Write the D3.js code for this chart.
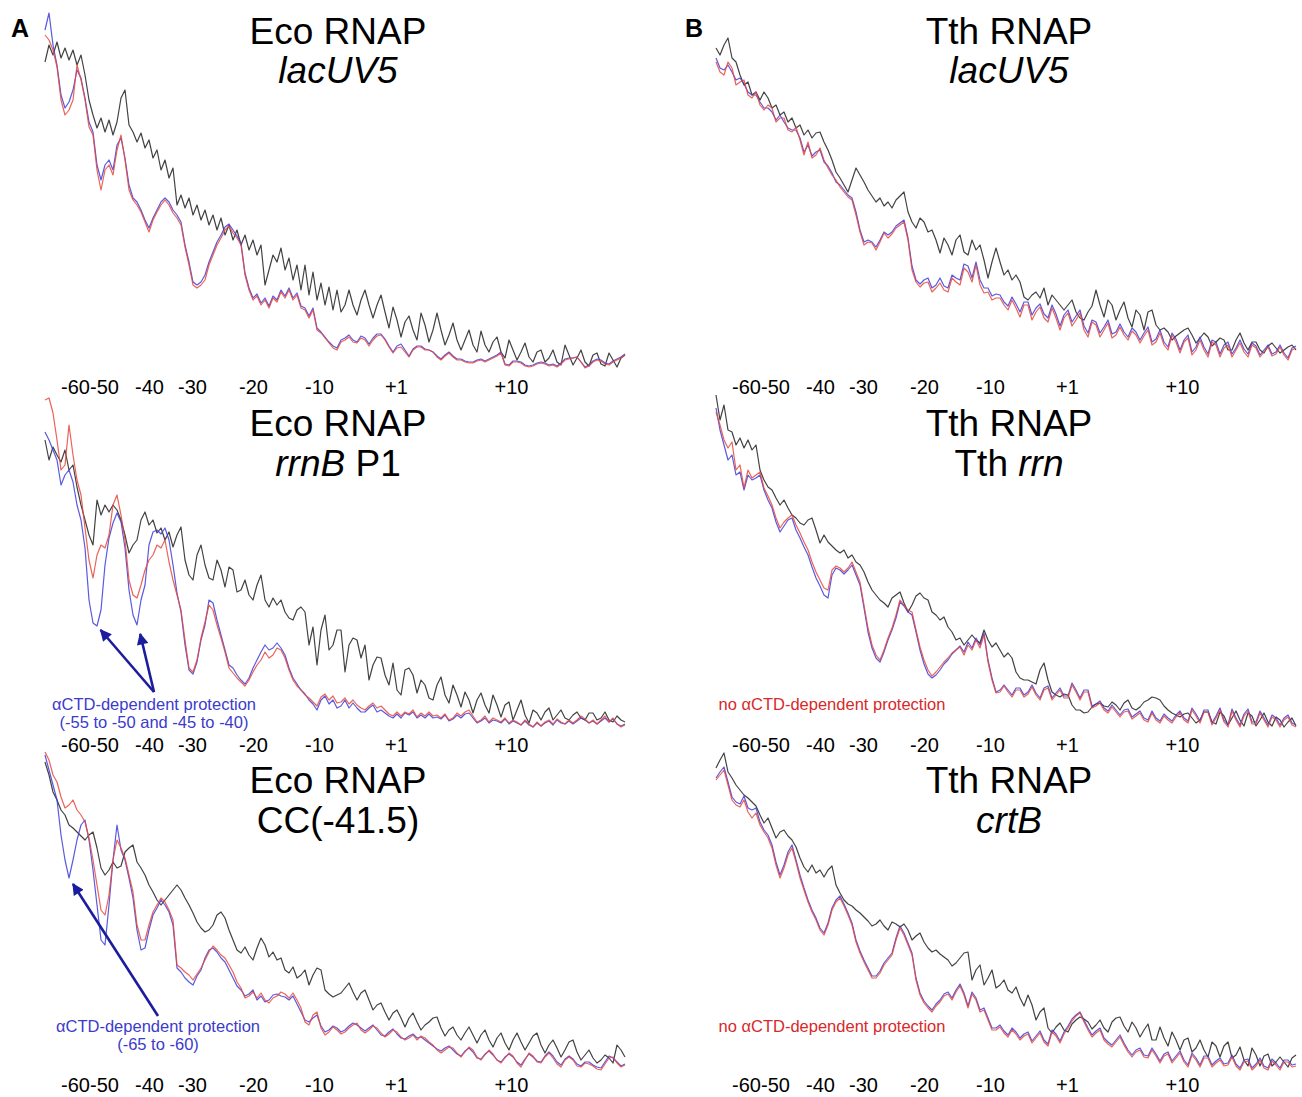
<!DOCTYPE html>
<html>
<head>
<meta charset="utf-8">
<script src="https://cdn.jsdelivr.net/npm/d3@7"></script>
<style>
  body { margin: 0; background: #fff; }
  svg { display: block; }
  text { font-family: "Liberation Sans", Arial, sans-serif; }
</style>
</head>
<body>
<svg></svg>
<script>
const width = 1302;
const height = 1097;

// trace intensities (height above baseline), one sample per scan step
const ecoLacBlack = [308,325,315,328,312,322,310,320,305,315,295,270,255,242,252,238,250,235,248,272,280,245,238,228,237,222,230,212,220,200,210,192,202,165,175,162,172,155,165,150,160,145,155,140,152,135,145,130,140,125,135,120,130,115,125,85,100,115,108,122,100,112,90,105,80,105,75,98,70,87,65,83,60,80,58,65,80,65,55,70,80,65,52,65,75,58,42,63,50,33,48,54,40,30,57,45,28,40,57,40,25,35,47,30,20,30,40,25,18,39,25,18,28,33,18,12,30,20,10,18,27,13,8,18,20,8,12,20,8,5,25,15,5,12,20,8,4,15,17,6,4,17,10,3,12,15];
const ecoLacRed = [335,330,320,303,270,255,260,270,305,290,270,243,235,200,180,200,205,195,220,235,210,180,170,165,158,148,138,150,158,165,170,165,157,152,145,123,105,85,82,85,90,105,115,125,132,140,144,137,132,125,95,80,70,74,65,70,62,72,68,78,72,80,70,75,62,60,52,60,40,37,32,27,22,20,28,30,33,28,27,32,30,24,30,34,35,30,23,17,22,23,18,13,20,23,23,20,20,18,13,10,14,17,13,10,10,8,7,7,9,10,8,10,12,14,17,5,4,8,8,7,4,3,4,6,7,6,4,5,3,6,10,11,12,13,8,2,4,8,10,9,6,5,8,10,12,15];
const ecoLacBlue = [340,357,325,305,275,262,268,280,300,292,272,248,238,205,190,205,210,200,225,232,212,185,172,168,160,150,142,152,160,168,172,168,160,155,148,125,108,88,85,88,95,108,118,128,135,143,146,140,134,127,97,82,72,76,67,72,64,74,70,80,74,82,72,77,64,62,54,62,42,38,33,28,24,22,30,32,35,30,28,34,32,26,32,36,36,31,24,18,24,26,20,14,21,24,24,21,20,18,14,11,15,18,14,11,11,9,8,8,10,11,9,11,13,15,18,6,5,9,9,8,5,4,5,7,8,7,5,6,4,7,11,12,12,13,8,3,5,9,11,10,7,6,9,11,13,16];

const ecoRrnBlack = [290,270,283,275,268,280,260,265,243,225,210,195,185,230,215,225,218,225,220,210,195,177,185,190,210,218,205,210,197,202,190,198,183,195,203,170,155,150,175,185,165,152,150,170,160,143,163,160,138,140,150,135,130,145,155,130,123,132,125,130,118,112,110,120,123,118,85,103,65,100,115,80,85,100,100,58,85,92,90,72,85,50,65,73,72,55,45,67,40,35,60,62,55,37,50,45,32,30,45,53,35,27,45,35,23,38,30,17,30,37,25,17,35,25,13,25,28,10,20,30,15,7,20,17,10,18,22,10,15,20,12,10,15,18,12,10,17,17,10,12,18,10,8,14,10,8];
const ecoRrnRed = [330,332,317,290,260,265,305,275,250,235,202,170,152,175,185,182,195,225,235,215,190,150,135,132,145,160,170,175,185,182,190,168,150,135,120,90,62,58,70,92,108,125,120,105,92,78,62,57,52,48,44,50,58,65,70,78,72,75,82,80,72,60,50,44,40,35,32,28,24,33,36,30,34,27,28,32,26,30,25,22,20,24,27,22,24,20,16,14,18,14,18,16,20,13,17,14,18,14,15,12,16,10,12,17,14,18,20,14,8,10,14,8,12,10,8,12,7,10,8,5,10,6,3,8,4,8,10,6,11,8,6,10,7,10,14,11,7,10,6,10,14,8,12,6,3,5];
const ecoRrnBlue = [298,290,280,270,245,255,260,248,225,210,182,130,107,104,120,165,192,207,217,208,182,140,115,105,130,145,185,198,200,196,202,190,165,137,118,85,60,56,68,90,105,130,127,110,95,80,65,62,55,50,46,52,62,70,78,85,80,82,87,82,75,62,52,46,40,36,30,26,20,30,34,26,30,22,24,30,22,27,22,18,18,22,25,18,20,17,14,12,16,12,17,15,18,12,15,12,16,12,13,11,15,9,11,15,12,16,17,12,7,9,12,7,10,9,7,11,6,9,7,5,9,5,3,7,4,7,9,5,10,7,6,9,6,9,12,10,7,9,6,9,12,8,11,6,4,6];

const ecoCcBlack = [308,295,278,270,260,255,245,242,238,234,230,235,238,222,202,195,200,208,202,204,218,222,225,208,202,195,185,178,170,165,170,175,180,185,180,172,165,157,148,142,138,140,145,155,158,152,140,130,120,117,123,115,110,122,132,125,113,118,110,112,100,97,103,92,95,100,85,95,102,100,80,76,73,75,77,82,87,78,70,77,80,70,60,65,67,58,50,57,60,52,43,52,57,48,40,45,48,52,53,42,34,40,43,35,30,37,43,35,27,35,40,30,23,32,37,27,20,30,37,28,20,27,34,37,25,17,25,30,22,13,20,28,30,18,10,15,20,12,7,10,15,12,7,25,20,13];
const ecoCcRed = [318,310,295,288,273,262,265,270,260,255,248,232,210,185,160,155,175,210,230,222,212,195,178,145,130,130,145,158,165,172,168,160,150,105,102,98,95,90,96,102,110,118,124,120,115,112,105,98,88,82,72,74,78,72,77,70,67,72,74,78,76,72,77,70,62,48,45,55,58,42,35,38,43,40,36,38,42,45,47,40,37,40,44,42,37,33,36,40,38,33,30,32,35,30,34,32,28,25,20,17,20,23,22,17,13,18,23,20,13,10,15,20,16,10,7,12,17,14,7,3,10,17,14,8,7,13,17,12,6,3,10,13,10,4,3,7,6,4,1,0,6,12,13,7,3,5];
const ecoCcBlue = [315,300,285,270,235,210,192,210,230,245,250,230,200,165,130,125,165,210,245,220,210,192,172,140,120,122,140,155,162,170,165,158,145,102,98,92,88,85,94,100,112,120,122,118,112,108,100,92,84,80,74,76,80,70,74,68,70,75,76,74,73,70,74,66,58,50,48,52,55,44,38,40,44,42,38,40,44,47,45,42,39,42,45,40,35,34,38,41,36,32,31,34,36,32,33,30,27,24,21,19,22,24,20,16,14,19,22,18,12,11,16,19,15,10,8,13,16,13,8,5,11,16,13,9,8,14,18,14,8,5,11,14,11,6,4,8,8,5,3,2,8,14,12,8,4,6];

const tthLacBlack = [322,315,325,332,312,308,295,285,288,275,278,270,278,272,262,265,255,258,248,252,242,245,235,240,232,237,238,228,220,210,198,192,185,178,190,202,195,188,180,174,168,172,164,168,162,170,174,178,158,148,142,152,148,138,140,130,117,132,125,115,130,135,118,115,130,120,125,110,92,108,122,108,95,100,90,95,88,73,70,75,78,72,82,65,75,70,65,60,65,70,58,52,50,58,64,80,65,53,70,65,50,60,68,52,43,60,55,40,58,60,45,40,42,38,30,34,37,40,42,35,27,32,37,33,24,28,32,30,20,20,30,37,27,20,28,28,20,17,24,27,22,17,20,23,25,20];
const tthLacRed = [308,298,295,308,302,285,288,290,275,272,278,265,260,265,262,248,252,252,240,238,243,230,215,228,212,215,222,210,202,195,190,183,178,173,170,155,138,125,128,127,120,128,137,132,136,142,145,148,130,100,88,83,87,88,78,82,87,80,78,92,88,85,102,98,88,105,85,77,78,70,72,72,65,60,70,62,53,65,65,50,58,63,52,48,62,52,40,52,57,44,50,57,40,33,48,45,33,40,47,32,35,43,35,30,39,35,27,34,40,25,28,37,25,20,35,28,17,28,32,15,20,30,20,13,28,25,13,22,25,13,20,27,18,13,25,22,13,18,23,14,16,23,15,10,20,22];
const tthLacBlue = [312,302,300,305,298,290,292,286,278,275,275,268,262,262,258,250,255,248,242,240,240,232,218,225,214,218,220,208,204,197,188,185,180,175,172,158,140,128,130,128,123,130,138,135,138,144,147,150,132,104,90,86,90,92,82,85,92,84,82,95,92,90,106,104,92,108,90,82,82,74,76,75,68,64,73,66,58,68,68,55,62,66,56,52,65,56,44,55,60,48,54,60,44,37,50,48,37,43,50,36,38,46,38,33,42,38,30,37,43,28,31,40,28,23,37,31,20,30,35,18,23,33,23,16,30,28,16,25,28,16,22,30,21,16,27,24,15,20,25,16,18,25,17,12,22,24];

const tthRrnBlack = [335,310,325,300,298,285,292,282,290,280,285,260,250,243,240,232,225,230,222,215,212,207,205,210,212,200,187,195,188,184,180,177,180,172,175,168,165,158,148,140,135,130,127,123,132,135,138,127,118,125,134,137,132,130,118,115,110,113,103,98,90,92,85,90,95,90,87,100,90,83,87,80,73,77,72,58,52,50,50,48,46,60,67,50,38,35,33,36,35,25,20,20,17,18,23,26,27,24,23,28,25,20,27,30,22,20,23,28,30,33,32,30,24,20,17,15,13,16,17,12,7,10,18,18,8,6,18,14,5,12,19,10,4,17,14,4,10,17,8,4,13,10,3,8,12,4];
const tthRrnRed = [318,305,290,282,288,260,265,242,260,252,255,258,242,234,225,212,202,208,212,215,205,197,188,180,168,158,150,142,140,160,164,162,158,162,168,158,148,125,102,85,75,70,80,92,102,115,130,125,120,118,100,83,70,60,54,58,63,68,72,77,80,83,75,85,80,90,82,95,68,50,37,38,44,38,33,40,40,33,36,43,35,30,40,42,30,35,40,32,32,45,38,30,38,38,22,24,27,20,17,23,18,13,18,19,11,14,17,10,8,17,10,7,14,10,7,13,17,10,7,20,14,7,18,18,5,12,20,8,3,19,10,3,14,19,6,6,17,10,3,13,10,3,10,13,5,3];
const tthRrnBlue = [322,300,285,270,275,255,258,240,255,250,252,255,240,230,222,208,198,204,210,212,200,192,183,175,163,152,144,135,132,155,162,160,156,160,165,155,145,122,98,82,72,68,78,90,100,112,128,124,118,115,98,80,66,56,52,55,60,66,70,76,80,84,78,88,82,92,85,97,70,52,38,40,45,40,35,42,42,35,38,45,37,32,42,44,32,37,42,34,34,47,40,32,40,40,24,26,29,22,19,25,20,15,20,21,13,16,19,12,10,19,12,9,16,12,9,15,19,12,9,22,16,9,20,20,7,14,22,10,5,21,12,5,16,21,8,8,19,12,5,15,12,5,12,15,7,5];

const tthCrtBlack = [302,310,317,298,292,285,280,275,272,268,264,255,247,252,242,232,238,240,234,230,223,212,203,198,205,197,200,193,200,204,185,177,170,166,164,160,157,153,149,144,146,150,144,140,148,146,143,146,140,130,134,137,128,122,118,120,116,113,110,104,107,112,117,118,90,100,105,85,92,100,82,85,90,80,77,83,72,64,75,65,50,58,62,42,37,43,47,40,38,46,50,53,51,48,41,45,50,42,38,48,52,53,44,38,48,42,33,40,46,30,30,43,32,24,38,30,20,30,32,18,22,30,20,13,28,24,13,24,28,12,15,23,10,4,22,15,4,14,16,4,8,13,8,3,12,15];
const tthCrtRed = [290,295,300,285,270,265,263,270,258,252,257,245,238,232,222,205,192,202,215,222,208,192,180,168,158,150,140,135,145,160,168,172,164,155,145,128,117,108,100,92,92,97,105,110,115,130,142,135,125,115,90,75,67,62,58,64,68,74,76,70,78,84,75,62,76,70,58,60,50,40,40,43,37,33,40,36,30,34,36,27,32,37,28,24,38,34,27,36,42,49,54,57,48,40,33,37,40,30,26,23,28,33,25,18,13,18,20,13,12,20,14,7,14,16,7,12,17,8,3,15,10,3,12,12,3,7,10,4,5,13,4,0,8,9,0,4,10,2,0,9,5,0,8,8,3,4];
const tthCrtBlue = [292,298,303,288,273,268,266,274,262,260,262,248,240,235,225,208,195,205,218,225,210,195,182,170,160,152,142,137,147,162,170,174,166,157,147,130,119,110,102,94,94,99,107,112,117,132,144,137,127,117,92,77,69,64,60,66,70,76,78,72,80,86,77,64,78,72,60,62,52,42,42,45,39,35,42,38,32,36,38,29,34,39,30,26,40,36,29,38,44,51,55,58,50,42,35,39,42,32,28,25,30,35,27,20,15,20,22,15,14,22,16,9,16,18,9,14,19,10,5,17,12,5,14,14,5,9,12,6,7,15,6,2,10,11,2,6,12,4,2,11,7,2,10,10,5,6];

// position scale ticks (scan step units) and their labels
const tickPos = [7.5, 14.75, 26, 36.75, 52, 68.5, 87.75, 116.5];
const tickLabels = ["-60", "-50", "-40", "-30", "-20", "-10", "+1", "+10"];
const scanSteps = 145;

const panels = [
  { col: 0, row: 0, l1: "Eco RNAP", l2: [["lacUV5", true]], traces: [ecoLacBlack, ecoLacBlue, ecoLacRed] },
  { col: 0, row: 1, l1: "Eco RNAP", l2: [["rrnB", true], [" P1", false]], traces: [ecoRrnBlack, ecoRrnBlue, ecoRrnRed] },
  { col: 0, row: 2, l1: "Eco RNAP", l2: [["CC(-41.5)", false]], traces: [ecoCcBlack, ecoCcBlue, ecoCcRed] },
  { col: 1, row: 0, l1: "Tth RNAP", l2: [["lacUV5", true]], traces: [tthLacBlack, tthLacBlue, tthLacRed] },
  { col: 1, row: 1, l1: "Tth RNAP", l2: [["Tth ", false], ["rrn", true]], traces: [tthRrnBlack, tthRrnBlue, tthRrnRed] },
  { col: 1, row: 2, l1: "Tth RNAP", l2: [["crtB", true]], traces: [tthCrtBlack, tthCrtBlue, tthCrtRed] }
];

// annotations in data units: [scan step, height]
const notes = [
  { col: 0, row: 1, color: "#3b3bcc", lines: ["\u03b1CTD-dependent protection", "(-55 to -50 and -45 to -40)"], at: [27.25, 20],
    arrows: [[[27.25, 38], [13.9, 100]], [[27.25, 38], [23.8, 96]]] },
  { col: 0, row: 2, color: "#3b3bcc", lines: ["\u03b1CTD-dependent protection", "(-65 to -60)"], at: [28.25, 38],
    arrows: [[[28.25, 54], [7, 186]]] },
  { col: 1, row: 1, color: "#d8282a", lines: ["no \u03b1CTD-dependent protection"], at: [29, 20], arrows: [] },
  { col: 1, row: 2, color: "#d8282a", lines: ["no \u03b1CTD-dependent protection"], at: [29, 38], arrows: [] }
];

const colLeft = [45, 716];
const traceW = 580;
const baselines = [370, 730, 1070];
const titleX = [338, 1009];
const titleY = [[44, 83], [436, 476], [793, 833]];
const tickDy = [24, 22, 22];
const colors = ["#383838", "#3c3cdc", "#e8463c"];

let svg = d3.select("svg")
  .attr("width", width)
  .attr("height", height)
  .style("background", "#fff");

svg.append("defs").append("marker")
  .attr("id", "head")
  .attr("viewBox", "0 0 10 10")
  .attr("refX", 9).attr("refY", 5)
  .attr("markerWidth", 5).attr("markerHeight", 4.5)
  .attr("orient", "auto")
  .append("path")
  .attr("d", "M0,0 L10,5 L0,10 Z")
  .attr("fill", "#1c1c9e");

// panel letters
svg.append("text").attr("x", 11).attr("y", 37).text("A")
  .attr("font-size", 25).attr("font-weight", "bold");
svg.append("text").attr("x", 685).attr("y", 37).text("B")
  .attr("font-size", 25).attr("font-weight", "bold");

function scales(col, row) {
  const x = d3.scaleLinear().domain([0, scanSteps]).range([colLeft[col], colLeft[col] + traceW]);
  const y = d3.scaleLinear().domain([0, 360]).range([baselines[row], baselines[row] - 360]);
  return [x, y];
}

panels.forEach(p => {
  const [x, y] = scales(p.col, p.row);
  const g = svg.append("g");

  p.traces.forEach((vals, k) => {
    const xs = d3.scaleLinear().domain([0, vals.length - 1]).range(x.range());
    const line = d3.line()
      .x((d, i) => xs(i))
      .y(d => y(d))
      .curve(d3.curveLinear);
    g.append("path")
      .datum(vals)
      .attr("d", line)
      .attr("fill", "none")
      .attr("stroke", colors[k])
      .attr("stroke-width", 1.2)
      .attr("stroke-opacity", k == 0 ? 0.95 : 0.85)
      .attr("stroke-linejoin", "round");
  });

  // position labels under the traces
  const axis = d3.axisBottom(x)
    .tickValues(tickPos)
    .tickFormat((d, i) => tickLabels[i])
    .tickSize(0)
    .tickPadding(0);
  const ag = g.append("g")
    .attr("transform", `translate(0, ${baselines[p.row] + tickDy[p.row]})`)
    .call(axis);
  ag.select(".domain").remove();
  ag.selectAll("text")
    .attr("dy", 0)
    .attr("y", 0)
    .attr("fill", "#000")
    .style("font-size", "20px")
    .style("font-family", "'Liberation Sans', Arial, sans-serif");

  // titles
  g.append("text")
    .attr("x", titleX[p.col]).attr("y", titleY[p.row][0])
    .attr("text-anchor", "middle").attr("font-size", 37)
    .text(p.l1);
  const t2 = g.append("text")
    .attr("x", titleX[p.col]).attr("y", titleY[p.row][1])
    .attr("text-anchor", "middle").attr("font-size", 37);
  p.l2.forEach(part => {
    t2.append("tspan")
      .attr("font-style", part[1] ? "italic" : "normal")
      .text(part[0]);
  });
});

notes.forEach(n => {
  const [x, y] = scales(n.col, n.row);
  n.arrows.forEach(a => {
    svg.append("line")
      .attr("x1", x(a[0][0])).attr("y1", y(a[0][1]))
      .attr("x2", x(a[1][0])).attr("y2", y(a[1][1]))
      .attr("stroke", "#1c1c9e")
      .attr("stroke-width", 2.6)
      .attr("marker-end", "url(#head)");
  });
  n.lines.forEach((s, i) => {
    svg.append("text")
      .attr("x", x(n.at[0]))
      .attr("y", y(n.at[1]) + i * 18)
      .attr("text-anchor", "middle")
      .attr("font-size", 16.5)
      .attr("fill", n.color)
      .text(s);
  });
});
</script>
</body>
</html>
